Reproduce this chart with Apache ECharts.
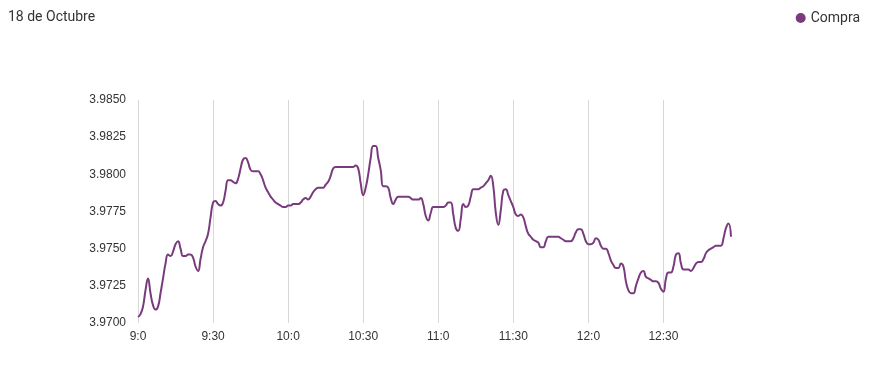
<!DOCTYPE html>
<html>
<head>
<meta charset="utf-8">
<script src="https://cdn.jsdelivr.net/npm/echarts@6/dist/echarts.min.js"></script>
<style>html,body{margin:0;padding:0;background:#fff}#c{width:871px;height:383px}</style>
</head>
<body>
<div id="c"></div>
<script>
var title = '18 de Octubre';
var seriesName = 'Compra';
var startHour = 9, startMinute = 0, minuteCount = 238;
var categories = [];
for (var k = 0; k < minuteCount; k++) {
  var t = startHour * 60 + startMinute + k;
  categories.push(Math.floor(t / 60) + ':' + (t % 60));
}
var compra = [
  3.9704,3.9706,3.9711,3.9722,3.9730,3.9720,3.9712,3.9709,3.9711,3.9720,
  3.9730,3.9740,3.9746,3.9745,3.9748,3.9753,3.9755,3.9750,3.9745,3.9745,
  3.9746,3.9746,3.9744,3.9738,3.9735,3.9743,3.9751,3.9755,3.9760,3.9771,
  3.9781,3.9782,3.9780,3.9779,3.9781,3.9789,3.9796,3.9796,3.9795,3.9794,
  3.9797,3.9804,3.9810,3.9811,3.9808,3.9803,3.9802,3.9802,3.9802,3.9800,
  3.9796,3.9791,3.9788,3.9785,3.9783,3.9781,3.9780,3.9779,3.9778,3.9778,
  3.9779,3.9779,3.9780,3.9780,3.9780,3.9781,3.9783,3.9784,3.9783,3.9785,
  3.9788,3.9790,3.9791,3.9791,3.9791,3.9793,3.9795,3.9799,3.9804,3.9805,
  3.9805,3.9805,3.9805,3.9805,3.9805,3.9805,3.9805,3.9806,3.9804,3.9794,
  3.9786,3.9791,3.9800,3.9811,3.9819,3.9819,3.9811,3.9803,3.9792,3.9792,
  3.9791,3.9784,3.9780,3.9783,3.9785,3.9785,3.9785,3.9785,3.9785,3.9784,
  3.9783,3.9783,3.9783,3.9784,3.9780,3.9772,3.9769,3.9774,3.9778,3.9778,
  3.9778,3.9778,3.9778,3.9779,3.9781,3.9781,3.9773,3.9764,3.9762,3.9770,
  3.9780,3.9778,3.9779,3.9785,3.9790,3.9790,3.9790,3.9791,3.9792,3.9794,
  3.9796,3.9799,3.9792,3.9774,3.9766,3.9776,3.9789,3.9790,3.9786,3.9782,
  3.9778,3.9773,3.9772,3.9773,3.9771,3.9765,3.9760,3.9758,3.9756,3.9755,
  3.9754,3.9751,3.9751,3.9755,3.9758,3.9758,3.9758,3.9758,3.9758,3.9757,
  3.9756,3.9755,3.9755,3.9755,3.9757,3.9761,3.9763,3.9763,3.9760,3.9755,
  3.9753,3.9753,3.9754,3.9757,3.9756,3.9752,3.9750,3.9750,3.9747,3.9742,
  3.9739,3.9737,3.9737,3.9740,3.9738,3.9728,3.9722,3.9720,3.9720,3.9725,
  3.9730,3.9734,3.9735,3.9731,3.9730,3.9729,3.9728,3.9728,3.9727,3.9723,
  3.9721,3.9730,3.9734,3.9734,3.9738,3.9746,3.9747,3.9740,3.9736,3.9736,
  3.9736,3.9735,3.9737,3.9740,3.9741,3.9741,3.9743,3.9747,3.9749,3.9750,
  3.9751,3.9752,3.9752,3.9752,3.9757,3.9764,3.9767,3.9758
];
var yMin = 3.9700, yMax = 3.9850, yStep = 0.0025;
var labelEvery = 30;

var chart = echarts.init(document.getElementById('c'), null, {renderer: 'canvas'});
function every(i) { return i % labelEvery === 0; }
chart.setOption({
  animation: false,
  title: {
    text: title, left: 3, top: 5,
    textStyle: {fontFamily: 'Roboto', fontSize: 14, fontWeight: 'normal', color: '#333'}
  },
  legend: {
    data: [seriesName], right: 6, top: 6, icon: 'circle', itemWidth: 10, itemHeight: 10, itemGap: 5,
    textStyle: {fontFamily: 'Roboto', fontSize: 14, color: '#333'}
  },
  grid: {left: 138, right: 140, top: 100, bottom: 60},
  xAxis: {
    type: 'category', data: categories, boundaryGap: false,
    axisLine: {show: false}, axisTick: {show: false},
    axisLabel: {interval: function (i) { return every(i); }, color: '#333', fontFamily: 'Liberation Sans', fontSize: 12, margin: 8},
    splitLine: {show: true, interval: function (i) { return every(i); }, lineStyle: {color: '#d8d8d8', width: 1}}
  },
  yAxis: {
    type: 'value', min: yMin, max: yMax, interval: yStep,
    axisLine: {show: false}, axisTick: {show: false}, splitLine: {show: false},
    axisLabel: {formatter: function (v) { return v.toFixed(4); }, color: '#333', fontFamily: 'Liberation Sans', fontSize: 12, margin: 12}
  },
  series: [{
    name: seriesName, type: 'line', data: compra, smooth: true, showSymbol: false,
    itemStyle: {color: '#7a3b7e'}, lineStyle: {color: '#7a3b7e', width: 2}
  }]
});
</script>
</body>
</html>
